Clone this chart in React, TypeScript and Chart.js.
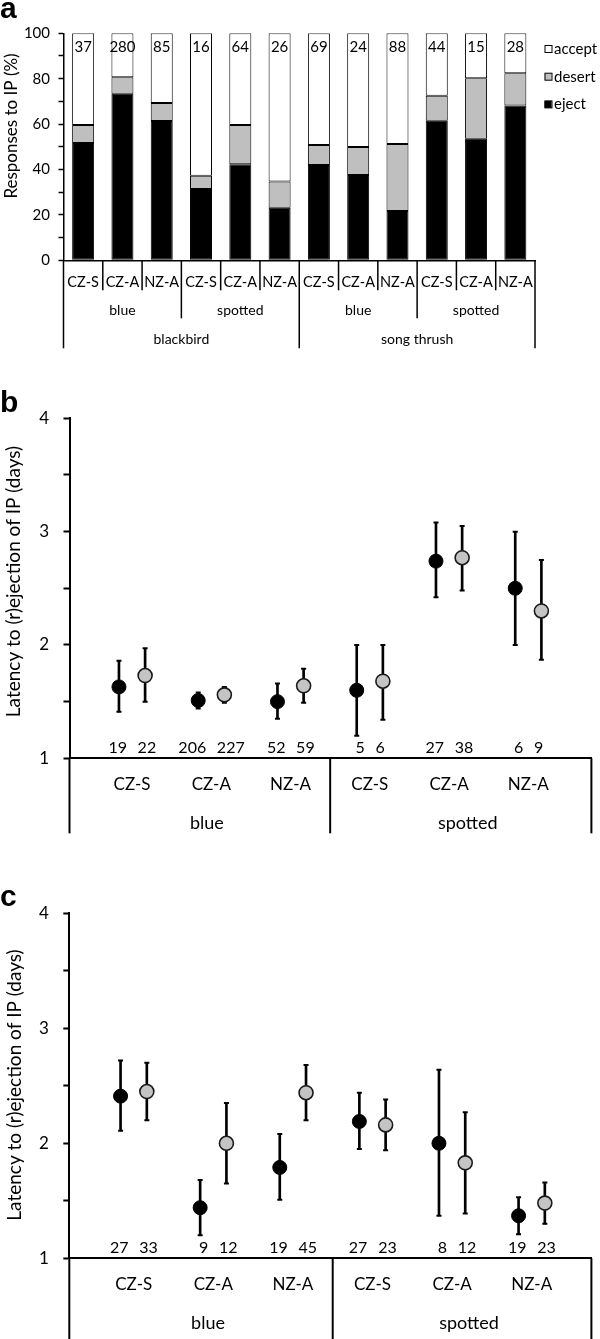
import React, { useEffect, useRef } from 'react';
import { Chart, registerables } from 'chart.js';

Chart.register(...registerables);

const FONT_FAMILY = 'Lato, "Open Sans", "DejaVu Sans", sans-serif';
const LETTER_FONT = 'bold 30px "Liberation Sans", Arial, sans-serif';
Chart.defaults.font.family = FONT_FAMILY;
Chart.defaults.color = '#000';

// ---------------- Panel a : responses to IP (%) ----------------
const aPopulations = ['CZ-S', 'CZ-A', 'NZ-A', 'CZ-S', 'CZ-A', 'NZ-A', 'CZ-S', 'CZ-A', 'NZ-A', 'CZ-S', 'CZ-A', 'NZ-A'];
const aEggTypes = ['blue', 'spotted', 'blue', 'spotted'];
const aHosts = ['blackbird', 'song thrush'];
const aEject = [51.7, 73.4, 61.4, 31.4, 42.3, 23.2, 42.0, 37.6, 21.7, 61.5, 53.6, 68.2];
const aDesert = [7.9, 7.2, 7.9, 5.9, 17.3, 11.5, 8.8, 12.3, 29.5, 11.0, 26.6, 14.2];
const aAccept = [40.4, 19.4, 30.7, 62.7, 40.4, 65.3, 49.2, 50.1, 48.8, 27.5, 19.8, 17.6];
const aSampleSizes = [37, 280, 85, 16, 64, 26, 69, 24, 88, 44, 15, 28];

// ---------------- Panels b and c : latency ----------------
const latPopulations = ['CZ-S', 'CZ-A', 'NZ-A', 'CZ-S', 'CZ-A', 'NZ-A'];
const latEggTypes = ['blue', 'spotted'];
const latTitle = 'Latency to (r)ejection of IP (days)';

// panel b
const bBlackMean = [1.63, 1.51, 1.50, 1.60, 2.74, 2.50];
const bBlackLow = [1.41, 1.44, 1.35, 1.20, 2.42, 2.00];
const bBlackHigh = [1.86, 1.58, 1.66, 2.00, 3.08, 3.00];
const bGreyMean = [1.73, 1.56, 1.64, 1.68, 2.77, 2.30];
const bGreyLow = [1.50, 1.49, 1.49, 1.34, 2.48, 1.87];
const bGreyHigh = [1.97, 1.63, 1.79, 2.00, 3.05, 2.75];
const bBlackN = [19, 206, 52, 5, 27, 6];
const bGreyN = [22, 227, 59, 6, 38, 9];

// panel c
const cBlackMean = [2.41, 1.44, 1.79, 2.19, 2.00, 1.37];
const cBlackLow = [2.11, 1.20, 1.51, 1.95, 1.37, 1.21];
const cBlackHigh = [2.72, 1.68, 2.08, 2.44, 2.64, 1.53];
const cGreyMean = [2.45, 2.00, 2.44, 2.16, 1.83, 1.48];
const cGreyLow = [2.20, 1.65, 2.20, 1.94, 1.39, 1.30];
const cGreyHigh = [2.70, 2.35, 2.68, 2.38, 2.27, 1.66];
const cBlackN = [27, 9, 19, 27, 8, 19];
const cGreyN = [33, 12, 45, 23, 12, 23];

function line(ctx: CanvasRenderingContext2D, x1: number, y1: number, x2: number, y2: number) {
  ctx.beginPath();
  ctx.moveTo(x1, y1);
  ctx.lineTo(x2, y2);
  ctx.stroke();
}

function rotatedText(ctx: CanvasRenderingContext2D, text: string, x: number, y: number, font: string) {
  ctx.save();
  ctx.translate(x, y);
  ctx.rotate(-Math.PI / 2);
  ctx.font = font;
  ctx.textAlign = 'center';
  ctx.textBaseline = 'middle';
  ctx.fillText(text, 0, 0);
  ctx.restore();
}

const panelAExtras = {
  id: 'panelAExtras',
  afterDraw(chart: any) {
    const { ctx, chartArea } = chart;
    const x = chart.scales.x;
    const n = aPopulations.length;
    const step = x.getPixelForValue(1) - x.getPixelForValue(0);
    const edge = (i: number) => x.getPixelForValue(0) - step / 2 + i * step;
    const b = chartArea.bottom;
    ctx.save();
    ctx.fillStyle = '#000';
    ctx.strokeStyle = '#000';

    ctx.font = LETTER_FONT;
    ctx.textAlign = 'left';
    ctx.textBaseline = 'alphabetic';
    ctx.fillText('a', 0, 18);

    rotatedText(ctx, 'Responses to IP (%)', 11.5, 126, `17px ${FONT_FAMILY}`);

    ctx.font = `15px ${FONT_FAMILY}`;
    ctx.textAlign = 'center';
    ctx.textBaseline = 'middle';
    aSampleSizes.forEach((s, i) => ctx.fillText(String(s), x.getPixelForValue(i), chartArea.top + 14));

    ctx.lineWidth = 1.5;
    for (let i = 0; i <= n; i++) {
      const len = i % 6 === 0 ? 88 : i % 3 === 0 ? 58 : 30;
      const px = edge(i);
      line(ctx, px, b, px, b + len);
    }

    ctx.font = `14px ${FONT_FAMILY}`;
    aEggTypes.forEach((t, g) => ctx.fillText(t, (edge(g * 3) + edge(g * 3 + 3)) / 2, b + 50.4));
    aHosts.forEach((h, g) => ctx.fillText(h, (edge(g * 6) + edge(g * 6 + 6)) / 2, b + 79));

    // legend (top entry = top stack segment)
    const items = chart.data.datasets.slice().reverse();
    const lx = chartArea.right + 9.5;
    items.forEach((ds: any, k: number) => {
      const cy = 49 + k * 27.7;
      ctx.fillStyle = ds.backgroundColor;
      ctx.fillRect(lx, cy - 3.5, 7, 7);
      ctx.lineWidth = 1;
      ctx.strokeStyle = '#000';
      ctx.strokeRect(lx + 0.5, cy - 3.5, 7, 7);
      ctx.fillStyle = '#000';
      ctx.font = `15px ${FONT_FAMILY}`;
      ctx.textAlign = 'left';
      ctx.fillText(ds.label, lx + 9.5, cy);
    });
    ctx.restore();
  },
};

type LatencyPanel = {
  letter: string;
  letterBaseline: number;
  titleX: number;
  titleY: number;
  blackMean: number[];
  blackLow: number[];
  blackHigh: number[];
  greyMean: number[];
  greyLow: number[];
  greyHigh: number[];
  blackN: number[];
  greyN: number[];
  height: number;
  top: number;
  bottom: number;
  left: number;
  right: number;
  xMin: number;
  xMax: number;
  sepLength: number;
};

const OFFSET = 0.165;

function latencyConfig(p: LatencyPanel): any {
  const xAxisHeight = 60;
  const extras = {
    id: 'latencyExtras' + p.letter,
    afterDraw(chart: any) {
      const { ctx, chartArea } = chart;
      const x = chart.scales.x;
      ctx.save();
      ctx.fillStyle = '#000';
      ctx.strokeStyle = '#000';
      ctx.font = LETTER_FONT;
      ctx.textAlign = 'left';
      ctx.textBaseline = 'alphabetic';
      ctx.fillText(p.letter, 0, p.letterBaseline);

      rotatedText(ctx, latTitle, p.titleX, p.titleY, `19px ${FONT_FAMILY}`);

      ctx.font = `16px ${FONT_FAMILY}`;
      ctx.textBaseline = 'middle';
      ctx.textAlign = 'right';
      p.blackN.forEach((v, i) => ctx.fillText(String(v), x.getPixelForValue(i - OFFSET) + 8, chartArea.bottom - 10.5));
      ctx.textAlign = 'left';
      p.greyN.forEach((v, i) => ctx.fillText(String(v), x.getPixelForValue(i + OFFSET) - 7.5, chartArea.bottom - 10.5));

      ctx.lineWidth = 2;
      const mid = x.getPixelForValue(2.5);
      [chartArea.left, mid, chartArea.right].forEach((px) => line(ctx, px, chartArea.bottom, px, chartArea.bottom + p.sepLength));

      ctx.font = `18px ${FONT_FAMILY}`;
      ctx.textAlign = 'center';
      const regions = [[chartArea.left, mid], [mid, chartArea.right]];
      latEggTypes.forEach((t, g) => ctx.fillText(t, (regions[g][0] + regions[g][1]) / 2 + 7, chartArea.bottom + 65));
      ctx.restore();
    },
  };

  const caps: { x: number; y: number }[] = [];
  const bars: { x: number; y: number[] }[] = [];
  p.blackMean.forEach((_, i) => {
    caps.push({ x: i - OFFSET, y: p.blackLow[i] }, { x: i - OFFSET, y: p.blackHigh[i] });
    caps.push({ x: i + OFFSET, y: p.greyLow[i] }, { x: i + OFFSET, y: p.greyHigh[i] });
    bars.push({ x: i - OFFSET, y: [p.blackLow[i], p.blackHigh[i]] });
    bars.push({ x: i + OFFSET, y: [p.greyLow[i], p.greyHigh[i]] });
  });

  return {
    type: 'scatter',
    data: {
      datasets: [
        {
          label: 'black',
          data: p.blackMean.map((m, i) => ({ x: i - OFFSET, y: m })),
          pointRadius: 7,
          pointBackgroundColor: '#000',
          pointBorderColor: '#000',
          pointBorderWidth: 1,
          order: 0,
        },
        {
          label: 'grey',
          data: p.greyMean.map((m, i) => ({ x: i + OFFSET, y: m })),
          pointRadius: 7,
          pointBackgroundColor: '#c4c4c4',
          pointBorderColor: '#1a1a1a',
          pointBorderWidth: 1.6,
          order: 1,
        },
        {
          label: 'caps',
          data: caps,
          pointStyle: 'line',
          pointRadius: 2.5,
          pointBorderWidth: 2,
          pointBorderColor: '#000',
          order: 2,
        },
        {
          type: 'bar',
          label: 'interval',
          data: bars,
          backgroundColor: '#000',
          borderWidth: 0,
          barThickness: 2,
          grouped: false,
          order: 3,
        },
      ],
    },
    options: {
      responsive: false,
      animation: false,
      events: [],
      layout: { padding: { left: 0, top: p.top, right: 600 - p.right, bottom: p.height - p.bottom - xAxisHeight } },
      plugins: { legend: { display: false }, tooltip: { enabled: false } },
      scales: {
        x: {
          type: 'linear',
          bounds: 'data',
          min: p.xMin,
          max: p.xMax,
          offset: false,
          afterBuildTicks: (axis: any) => {
            axis.ticks = latPopulations.map((_, i) => ({ value: i }));
          },
          afterFit: (axis: any) => {
            axis.height = xAxisHeight;
          },
          ticks: {
            callback: (v: number) => latPopulations[v],
            font: { family: FONT_FAMILY, size: 17 },
            color: '#000',
            padding: 16.5,
            maxRotation: 0,
            autoSkip: false,
          },
          grid: { display: false, drawTicks: false, offset: false },
          border: { display: true, color: '#000', width: 2 },
        },
        y: {
          type: 'linear',
          min: 1,
          max: 4,
          afterFit: (axis: any) => {
            axis.width = p.left;
          },
          ticks: {
            stepSize: 0.5,
            callback: (v: number) => (Number.isInteger(v) ? String(v) : ''),
            font: { family: FONT_FAMILY, size: 17 },
            color: '#000',
            padding: 14.5,
          },
          grid: { display: true, drawOnChartArea: false, drawTicks: true, tickLength: 6, tickColor: '#000', tickWidth: 2 },
          border: { display: true, color: '#000', width: 2 },
        },
      },
    },
    plugins: [extras],
  };
}

const panelB: LatencyPanel = {
  letter: 'b', letterBaseline: 52, titleX: 14, titleY: 221.5,
  blackMean: bBlackMean, blackLow: bBlackLow, blackHigh: bBlackHigh,
  greyMean: bGreyMean, greyLow: bGreyLow, greyHigh: bGreyHigh,
  blackN: bBlackN, greyN: bGreyN,
  height: 480, top: 58.3, bottom: 398.3, left: 69.5, right: 595,
  xMin: -0.789, xMax: 5.796, sepLength: 75,
};

const panelC: LatencyPanel = {
  letter: 'c', letterBaseline: 65.5, titleX: 14.5, titleY: 245,
  blackMean: cBlackMean, blackLow: cBlackLow, blackHigh: cBlackHigh,
  greyMean: cGreyMean, greyLow: cGreyLow, greyHigh: cGreyHigh,
  blackN: cBlackN, greyN: cGreyN,
  height: 499, top: 73.3, bottom: 418.3, left: 69.3, right: 594,
  xMin: -0.809, xMax: 5.75, sepLength: 81,
};

function panelAConfig(): any {
  return {
    type: 'bar',
    data: {
      labels: aPopulations,
      datasets: [
        { label: 'eject', data: aEject, backgroundColor: '#000000', borderColor: '#000', borderWidth: 1 },
        { label: 'desert', data: aDesert, backgroundColor: '#bfbfbf', borderColor: '#000', borderWidth: 1 },
        { label: 'accept', data: aAccept, backgroundColor: '#ffffff', borderColor: '#000', borderWidth: 1 },
      ],
    },
    options: {
      responsive: false,
      animation: false,
      events: [],
      layout: { padding: { left: 0, top: 33.3, right: 600 - 535, bottom: 360 - 260.3 - 90 } },
      datasets: { bar: { categoryPercentage: 1, barPercentage: 0.56, borderSkipped: false } },
      plugins: { legend: { display: false }, tooltip: { enabled: false } },
      scales: {
        x: {
          stacked: true,
          afterFit: (axis: any) => {
            axis.height = 90;
          },
          ticks: { font: { family: FONT_FAMILY, size: 14.5 }, color: '#000', padding: 13, autoSkip: false, maxRotation: 0 },
          grid: { display: false, drawTicks: false },
          border: { display: true, color: '#000', width: 1.5 },
        },
        y: {
          stacked: true,
          min: 0,
          max: 100,
          afterFit: (axis: any) => {
            axis.width = 63.5;
          },
          ticks: {
            stepSize: 10,
            callback: (v: number) => (v % 20 === 0 ? String(v) : ''),
            font: { family: FONT_FAMILY, size: 15 },
            color: '#000',
            padding: 8.5,
          },
          grid: { display: true, drawOnChartArea: false, drawTicks: true, tickLength: 5, tickColor: '#000', tickWidth: 1.5 },
          border: { display: true, color: '#000', width: 1.5 },
        },
      },
    },
    plugins: [panelAExtras],
  };
}

export default function App() {
  const refA = useRef<HTMLCanvasElement>(null);
  const refB = useRef<HTMLCanvasElement>(null);
  const refC = useRef<HTMLCanvasElement>(null);

  useEffect(() => {
    const charts: Chart[] = [];
    if (refA.current) charts.push(new Chart(refA.current, panelAConfig()));
    if (refB.current) charts.push(new Chart(refB.current, latencyConfig(panelB)));
    if (refC.current) charts.push(new Chart(refC.current, latencyConfig(panelC)));
    return () => charts.forEach((c) => c.destroy());
  }, []);

  const canvasStyle = (top: number, height: number): React.CSSProperties => ({
    position: 'absolute', left: 0, top, width: 600, height, display: 'block',
  });

  return (
    <div style={{ position: 'absolute', left: 0, top: 0, width: 600, height: 1339, background: '#fff', overflow: 'hidden' }}>
      <canvas ref={refA} width={600} height={360} style={canvasStyle(0, 360)} />
      <canvas ref={refB} width={600} height={480} style={canvasStyle(360, 480)} />
      <canvas ref={refC} width={600} height={499} style={canvasStyle(840, 499)} />
    </div>
  );
}
